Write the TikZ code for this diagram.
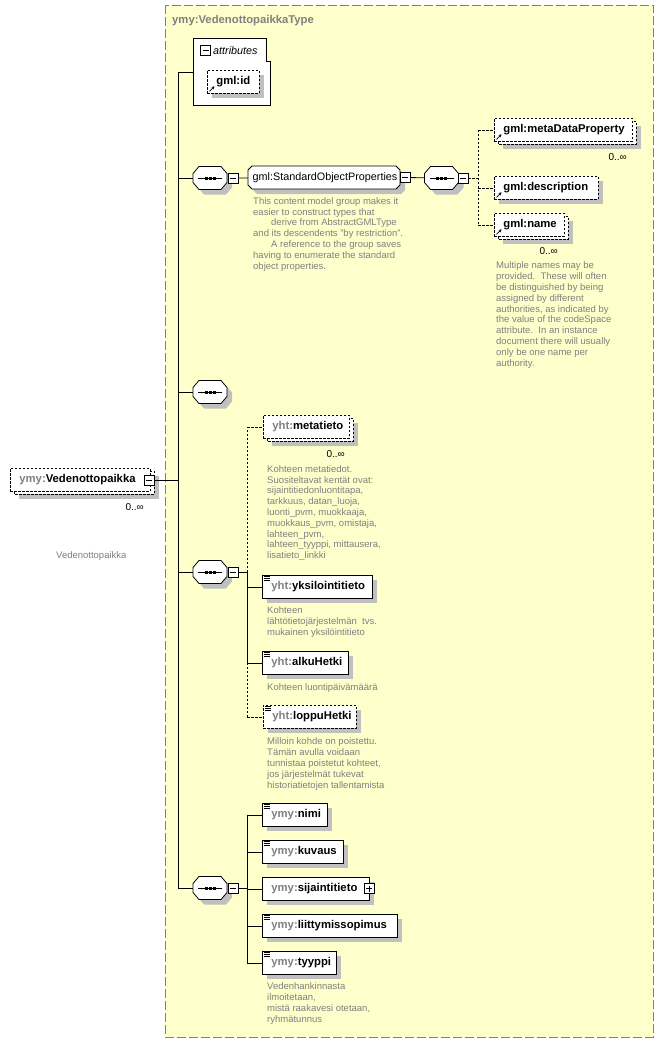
\documentclass[tikz,border=0pt]{standalone}
\usepackage{fontspec}
\setmainfont{Liberation Sans}
\usetikzlibrary{arrows.meta,shadows}
\definecolor{bgy}{RGB}{255,255,204}
\definecolor{pfx}{RGB}{128,128,128}
\definecolor{doccol}{RGB}{128,128,128}
\definecolor{shd}{RGB}{192,192,192}
\definecolor{frm}{RGB}{128,128,128}
\newcommand\pf[1]{{\color{pfx}#1}}
\newcommand\elfont{\fontsize{11.3}{13}\selectfont\bfseries}
\newcommand\docfont{\fontsize{9.5}{10.8}\selectfont}
\newcommand\grpfont{\fontsize{10.8}{13}\selectfont}
\newcommand\occfont{\fontsize{10}{12}\selectfont}
\newcommand\seqshape[3]{%
 \begin{scope}[shift={(#2,#3)}]
  \fill[shd] (-6,-6.5) -- (16,-6.5) -- (22,0.5) -- (22,9.5) -- (16,16.5) -- (-6,16.5) -- (-12,9.5) -- (-12,0.5) -- cycle;
  \draw[ln, fill=white] (-11,-11.5) -- (11,-11.5) -- (17,-4.5) -- (17,4.5) -- (11,11.5) -- (-11,11.5) -- (-17,4.5) -- (-17,-4.5) -- cycle;
  \draw[ln] (-12,0) -- (12,0);
  \foreach \dd in {-4,0,4} \fill ({\dd-1.5},-1.5) rectangle ++(3,3);
  \node[inner sep=0, minimum width=34pt, minimum height=23pt] (#1) at (0,0) {};
 \end{scope}}
\newcommand\backbox[3]{%
  \fill[shd] ({#1+9},{#2+8}) rectangle ++(#3,23);
  \draw[ln, dsh, fill=white] ({#1+4},{#2+3}) rectangle ++(#3,23);}
\newcommand\refarrow[1]{%
  \draw[line width=0.7pt, -{Stealth[length=3pt,width=3pt]}] ([xshift=2.5pt,yshift=2.5pt]#1.south west) -- ++(5,-5);}
\newcommand\simpicon[1]{%
  \foreach \kk in {1.5,3.5,5.5} \draw[line width=0.6pt] ([xshift=2pt,yshift=-\kk pt]#1.north west) -- ++(6,0);}
\begin{document}
\begin{tikzpicture}[x=1pt,y=-1pt,
  ln/.style={line width=0.8pt},
  dsh/.style={dash pattern=on 2.5pt off 1.5pt},
  sh/.style={drop shadow={shadow xshift=5pt,shadow yshift=-5pt,fill=shd,opacity=1}},
  el/.style={draw, fill=white, ln, minimum height=23pt, inner xsep=9pt, inner ysep=0pt,
     text height=8.5pt, text depth=2.5pt, align=left, anchor=north west, font=\elfont},
  doctext/.style={anchor=base west, inner sep=0pt, align=left, text=doccol, font=\docfont},
  docblock/.style={anchor=north west, inner sep=0pt, align=left, text=doccol, font=\docfont},
  occ/.style={anchor=base east, inner sep=0pt, font=\occfont},
  pm/.style={draw, fill=white, ln, minimum size=10pt, inner sep=0pt,
     path picture={\draw[line width=0.8pt] ([xshift=2pt]path picture bounding box.west) -- ([xshift=-2pt]path picture bounding box.east);}},
  plusbox/.style={draw, fill=white, ln, minimum size=10pt, inner sep=0pt,
     path picture={\draw[line width=0.8pt] ([xshift=2pt]path picture bounding box.west) -- ([xshift=-2pt]path picture bounding box.east);
                   \draw[line width=0.8pt] ([yshift=2pt]path picture bounding box.south) -- ([yshift=-2pt]path picture bounding box.north);}}
]
\useasboundingbox (0,0) rectangle (664,1042);
\fill[white] (0,0) rectangle (664,1042);

% frame of the type
\draw[frm, line width=0.9pt, dash pattern=on 9pt off 3pt, fill=bgy] (165,5) rectangle (653,1037);
\node[anchor=base west, inner sep=0pt, font=\elfont, text=pfx] (title) at (172,23) {ymy:VedenottopaikkaType};

% main element
\backbox{10}{468}{140}
\node[el, dsh, text width=122pt] (ved) at (10,468) {\pf{ymy:}Vedenottopaikka};
\node[pm] (vmin) at (149,480.5) {};
\node[occ] (vedocc) at (144,510) {0..∞};
\node[doctext] (veddoc) at (56,558) {Vedenottopaikka};

% attributes
\draw[ln, fill=white] (193,38) -- (266,38) -- (266,61) -- (270,61) -- (270,105) -- (193,105) -- cycle;
\node[inner sep=0pt, minimum width=77pt, minimum height=67pt] (attr) at (231.5,71.5) {};
\node[pm] (amin) at (205.5,50.5) {};
\node[anchor=base west, inner sep=0pt, font=\fontsize{10.8}{13}\selectfont\itshape] (atxt) at (213,54.5) {attributes};
\node[el, dsh, sh, text width=34pt] (gid) at (207,70) {gml:id};
\refarrow{gid}

% sequences
\seqshape{s1}{210}{178}
\node[pm] (m1) at (233,178) {};
\seqshape{s3}{210}{392}
\seqshape{s4}{210}{572}
\node[pm] (m4) at (233,572) {};
\seqshape{s5}{210}{888}
\node[pm] (m5) at (233,888) {};

% group StandardObjectProperties
\fill[shd] (257,171) -- (401,171) -- (405,175) -- (405,190) -- (401,194) -- (257,194) -- (253,190) -- (253,175) -- cycle;
\draw[ln, fill=white] (252,166) -- (396,166) -- (400,170) -- (400,185) -- (396,189) -- (252,189) -- (248,185) -- (248,170) -- cycle;
\node[inner xsep=4.5pt, inner ysep=0pt, text width=143pt, minimum height=23pt, text height=8.5pt, text depth=2.5pt,
      align=left, anchor=north west, font=\grpfont] (sop) at (248,166) {gml:StandardObjectProperties};
\node[pm] (msop) at (405,177.5) {};
\node[docblock] (sopdoc) at (253,197.3) {This content model group makes it\\easier to construct types that\\\hspace*{18pt}derive from AbstractGMLType\\and its descendents "by restriction".\\\hspace*{18pt}A reference to the group saves\\having to enumerate the standard\\object properties.};
\seqshape{s2}{441.5}{178}
\node[pm] (m2) at (463,178) {};

% gml elements
\backbox{494}{118}{138}
\node[el, dsh, text width=120pt] (mdp) at (494,118) {gml:metaDataProperty};
\refarrow{mdp}
\node[occ] (mdpocc) at (627,160.5) {0..∞};
\node[el, dsh, sh, text width=86pt] (gdesc) at (494,176) {gml:description};
\refarrow{gdesc}
\backbox{494}{213}{70}
\node[el, dsh, text width=52pt] (gname) at (494,213) {gml:name};
\refarrow{gname}
\node[occ] (gnameocc) at (558,254.5) {0..∞};
\node[docblock] (gnamedoc) at (496,261.8) {Multiple names may be\\provided.\ \ These will often\\be distinguished by being\\assigned by different\\authorities, as indicated by\\the value of the codeSpace\\attribute.\ \ In an instance\\document there will usually\\only be one name per\\authority.};

% yht elements
\backbox{263}{415}{86}
\node[el, dsh, text width=68pt] (meta) at (263,415) {\pf{yht:}metatieto};
\node[occ] (metaocc) at (345,457) {0..∞};
\node[docblock] (metadoc) at (267,465.3) {Kohteen metatiedot.\\Suositeltavat kentät ovat:\\sijaintitiedonluontitapa,\\tarkkuus, datan\_luoja,\\luonti\_pvm, muokkaaja,\\muokkaus\_pvm, omistaja,\\lahteen\_pvm,\\lahteen\_tyyppi, mittausera,\\lisatieto\_linkki};
\node[el, sh, text width=92pt] (yksi) at (262,575) {\pf{yht:}yksilointitieto};
\simpicon{yksi}
\node[docblock] (yksidoc) at (267,606.8) {Kohteen\\lähtötietojärjestelmän\ \ tvs.\\mukainen yksilöintitieto};
\node[el, sh, text width=68pt] (alku) at (262,651) {\pf{yht:}alkuHetki};
\simpicon{alku}
\node[doctext] (alkudoc) at (267,690) {Kohteen luontipäivämäärä};
\node[el, dsh, sh, text width=75pt] (loppu) at (263,705) {\pf{yht:}loppuHetki};
\simpicon{loppu}
\node[docblock] (loppudoc) at (267,737.8) {Milloin kohde on poistettu.\\Tämän avulla voidaan\\tunnistaa poistetut kohteet,\\jos järjestelmät tukevat\\historiatietojen tallentamista};

% ymy elements
\node[el, sh, text width=47pt] (nimi) at (262,803) {\pf{ymy:}nimi};
\simpicon{nimi}
\node[el, sh, text width=63pt] (kuvaus) at (262,840) {\pf{ymy:}kuvaus};
\simpicon{kuvaus}
\node[el, sh, text width=89pt] (sija) at (262,877) {\pf{ymy:}sijaintitieto};
\node[plusbox] (splus) at (369,888.5) {};
\node[el, sh, text width=117pt] (liitt) at (262,914) {\pf{ymy:}liittymissopimus};
\simpicon{liitt}
\node[el, sh, text width=56pt] (tyyppi) at (262,951) {\pf{ymy:}tyyppi};
\simpicon{tyyppi}
\node[docblock] (tyyppidoc) at (267,982.8) {Vedenhankinnasta\\ilmoitetaan,\\mistä raakavesi otetaan,\\ryhmätunnus};

% connectors
\coordinate (t1) at (178,72);
\coordinate (t5) at (178,888);
\draw[ln] (t1) -- (t5);
\draw[ln] (t1) -- (t1 -| attr.west);
\draw[ln] (t1 |- s1) -- (s1);
\draw[ln] (t1 |- s3) -- (s3);
\draw[ln] (t1 |- s4) -- (s4);
\draw[ln] (t1 |- s5) -- (s5);
\draw[ln] (vmin) -- (vmin -| t1);
\draw[ln] (m1) -- (sop);
\draw[ln] (msop) -- (s2);
\coordinate (b2) at (478,178);
\draw[ln, dsh] (m2) -- (b2);
\draw[ln, dsh] (b2 |- mdp) -- (b2 |- gname);
\draw[ln, dsh] (b2 |- mdp) -- (mdp);
\draw[ln, dsh] (b2 |- gdesc) -- (gdesc);
\draw[ln, dsh] (b2 |- gname) -- (gname);
\coordinate (b4) at (247,572);
\draw[ln] (m4) -- (b4);
\draw[ln, dsh] (b4) -- (b4 |- meta);
\draw[ln] (b4) -- (b4 |- alku);
\draw[ln, dsh] (b4 |- alku) -- (b4 |- loppu);
\draw[ln, dsh] (b4 |- meta) -- (meta);
\draw[ln] (b4 |- yksi) -- (yksi);
\draw[ln] (b4 |- alku) -- (alku);
\draw[ln, dsh] (b4 |- loppu) -- (loppu);
\coordinate (b5) at (247,888);
\draw[ln] (m5) -- (b5);
\draw[ln] (b5 |- nimi) -- (b5 |- tyyppi);
\draw[ln] (b5 |- nimi) -- (nimi);
\draw[ln] (b5 |- kuvaus) -- (kuvaus);
\draw[ln] (b5 |- sija) -- (sija);
\draw[ln] (b5 |- liitt) -- (liitt);
\draw[ln] (b5 |- tyyppi) -- (tyyppi);
\end{tikzpicture}
\end{document}
